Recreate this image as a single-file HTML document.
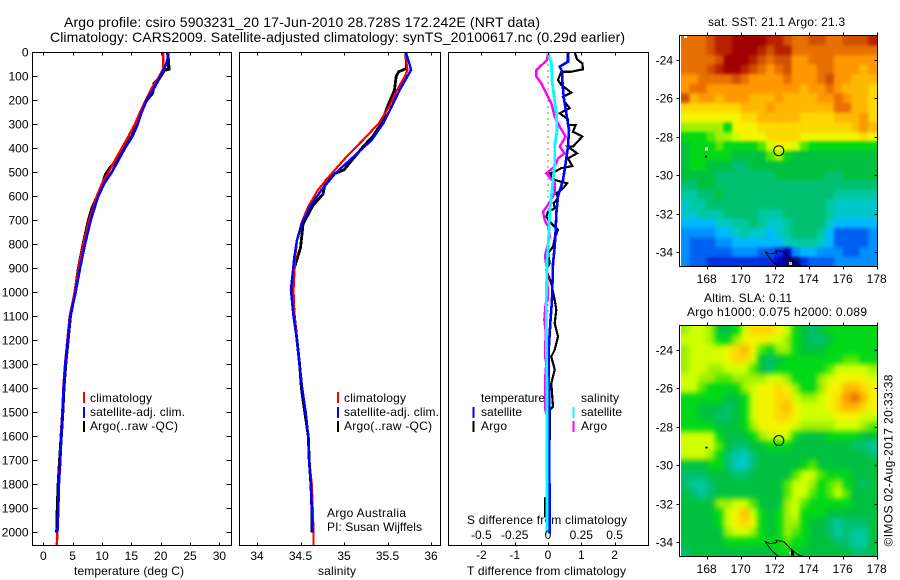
<!DOCTYPE html>
<html lang="en">
<head>
<meta charset="utf-8">
<title>Argo profile 5903231_20</title>
<style>
html,body{margin:0;padding:0;background:#fff;width:900px;height:580px;overflow:hidden}
svg{display:block}
text{font-family:"Liberation Sans",sans-serif;font-size:12px;fill:#000}
</style>
</head>
<body>
<svg id="chart" xmlns="http://www.w3.org/2000/svg" width="900" height="580" viewBox="0 0 900 580">
<rect x="0" y="0" width="900" height="580" fill="#fff"/>
<defs>
<clipPath id="clip-map1"><rect x="681" y="36" width="196" height="230"/></clipPath>
<clipPath id="clip-map2"><rect x="681" y="326" width="196" height="230"/></clipPath>
<filter id="smooth-sst" filterUnits="userSpaceOnUse" x="650" y="10" width="250" height="280" color-interpolation-filters="sRGB"><feGaussianBlur stdDeviation="1.6"/></filter>
<filter id="smooth-sla" filterUnits="userSpaceOnUse" x="650" y="300" width="250" height="280" color-interpolation-filters="sRGB"><feGaussianBlur stdDeviation="2.8"/></filter>
</defs>
<text x="64" y="27" font-size="14" style="font-size:14px" textLength="476">Argo profile: csiro 5903231_20 17-Jun-2010 28.728S 172.242E (NRT data)</text>
<text x="50" y="42" style="font-size:14px" textLength="575">Climatology: CARS2009. Satellite-adjusted climatology: synTS_20100617.nc (0.29d earlier)</text>
<text x="74" y="575" textLength="110">temperature (deg C)</text>
<text x="318" y="575" textLength="38">salinity</text>
<text x="467" y="575" textLength="159">T difference from climatology</text>
<text x="467" y="524" textLength="160">S difference from climatology</text>
<text x="327" y="517" textLength="79">Argo Australia</text>
<text x="327" y="531" textLength="95">PI: Susan Wijffels</text>
<text x="708" y="26" textLength="137">sat. SST: 21.1 Argo: 21.3</text>
<text x="704" y="302" textLength="88">Altim. SLA: 0.11</text>
<text x="687" y="316" textLength="180">Argo h1000: 0.075 h2000: 0.089</text>
<text transform="translate(892.5,546.5) rotate(-90)" textLength="172">©IMOS 02-Aug-2017 20:33:38</text>
<g id="layer"></g>
</svg>
<script>
/* ---- axis tick labels ---- */
const depthTicks = [0,100,200,300,400,500,600,700,800,900,1000,1100,1200,1300,1400,1500,1600,1700,1800,1900,2000];
const tempTicks = [0,5,10,15,20,25,30];
const salTicks = [34,34.5,35,35.5,36];
const salTickLabels = ['34','34.5','35','35.5','36'];
const tDiffTicks = [-2,-1,0,1,2];
const sDiffTicks = [-0.5,-0.25,0,0.25,0.5];
const sDiffTickLabels = ['-0.5','-0.25','0','0.25','0.5'];
const lonTicks = [168,170,172,174,176,178];
const latTicks = [-24,-26,-28,-30,-32,-34];

/* ---- temperature profiles ---- */
const climTempDepth = [0,70,100,150,200,250,300,350,400,450,500,550,600,650,700,800,900,1000,1100,1300,1400,1500,1600,1700,1800,1900,2000,2055];
const climTemp = [20.45,20.4,19.76,18.46,17.44,16.47,15.6,14.5,13.35,12.2,11.1,9.95,9.1,8.5,7.8,6.8,6,5.35,4.5,3.7,3.4,3.25,3.0,2.85,2.6,2.55,2.4,2.3];
const satTempDepth = [0,20,50,100,150,200,250,300,350,400,450,500,550,600,650,700,800,900,1000,1100,1300,1400,1500,1600,1700,1800,1900,2000];
const satTemp = [21.3,21.3,20.9,20,18.86,17.6,16.76,16.08,15.2,13.9,12.8,11.65,10.3,9.37,8.7,8.07,7.1,6.25,5.5,4.6,3.75,3.45,3.3,3.05,2.9,2.65,2.55,2.4];
const argoTempDepth = [0,70,75,100,130,170,200,250,300,350,400,450,480,510,550,600,650,700,800,900,1000,1100,1300,1400,1500,1600,1700,1800,1900,2000];
const argoTemp = [21.2,21.4,20.6,20,18.9,18.6,17.6,16.6,15.9,15.1,13.6,12.5,11.4,10.6,10.1,9.2,8.3,7.7,6.8,6,5.4,4.6,3.8,3.5,3.3,3.05,2.8,2.55,2.4,2.3];

/* ---- salinity profiles ---- */
const climSalDepth = [0,46,74,100,157,226,296,365,435,504,574,643,712,782,851,920,990,1100,1200,1300,1400,1500,1600,1700,1800,1900,2000,2055];
const climSal = [35.71,35.72,35.73,35.7,35.61,35.52,35.4,35.22,35.03,34.86,34.7,34.59,34.51,34.46,34.44,34.43,34.42,34.43,34.46,34.49,34.52,34.56,34.59,34.6,34.63,34.64,34.65,34.65];
const satSalDepth = [0,46,74,100,157,226,296,365,435,504,574,643,712,782,851,920,990,1100,1200,1300,1400,1500,1600,1700,1800,1900,2000];
const satSal = [35.71,35.75,35.77,35.73,35.64,35.55,35.45,35.32,35.11,34.9,34.74,34.61,34.52,34.46,34.43,34.41,34.39,34.42,34.46,34.49,34.52,34.56,34.59,34.6,34.62,34.63,34.64];
const argoSalDepth = [0,67,81,100,157,226,296,351,393,424,490,510,535,590,640,715,815,910,990,1100,1200,1300,1400,1500,1600,1700,1800,1900,2000];
const argoSal = [35.71,35.72,35.63,35.6,35.58,35.5,35.43,35.33,35.22,35.15,35,34.86,34.79,34.76,34.64,34.53,34.5,34.42,34.41,34.43,34.46,34.49,34.51,34.55,34.59,34.6,34.62,34.63,34.63];

/* ---- difference profiles ---- */
const diffTArgoDepth = [0,29,46,71,81,81,115,136,168,185,206,233,254,279,303,303,331,351,393,393,421,442,474,483,497,504,532,546,567,588,608,629,650,664,685,706,740,775,810,838,879,907,963,1032,1073,1129,1184,1240,1268,1323,1379,1476,1490,1600,1850,1858,1934,1940,2000];
const diffTArgo = [0.8,0.87,1.03,1.05,0.7,0.4,0.3,0.4,0.7,0.45,0.5,0.65,0.35,0.6,0.6,0.83,0.75,1.03,0.75,0.6,0.87,0.6,0.73,0.4,0.2,0.05,0.2,0.57,0.45,0.25,0.3,0.17,0.2,0,-0.05,0.05,0.3,0.2,0.15,0,0.05,-0.05,0.1,0.2,0.25,0.2,0.3,0.2,0.1,0.2,0.1,0.15,0.05,0.05,0.03,-0.09,-0.09,0.03,0.03];
const diffTSatDepth = [0,39,60,81,115,185,254,324,393,463,532,601,671,740,810,879,1032,1129,1240,1407,2004];
const diffTSat = [0.6,0.6,0.35,0.43,0.43,0.47,0.55,0.63,0.6,0.53,0.45,0.3,0.25,0.23,0.2,0.15,0.12,0.07,0.02,0.03,0.05];
const diffSArgoDepth = [0,32,74,101,129,185,213,268,310,351,393,421,442,476,504,546,588,629,664,699,726,768,824,851,907,1032,1046,1115,1164,1268,1296,1365,1490,1518,1879,2004];
const diffSArgo = [0,-0.0075,-0.0875,-0.0875,-0.05,0,0.025,0.05,0.0875,0.1325,0.0875,0.125,0.075,0.05,-0.0125,0.05,0.05,0.0075,-0.0375,-0.025,0,0.0125,-0.0125,-0.0225,-0.0075,0,-0.0175,-0.0275,-0.0175,-0.0225,-0.0125,-0.0225,-0.02,-0.0075,0.0075,0.0025];
const diffSSatDepth = [0,46,115,185,254,324,393,463,532,601,671,740,810,879,1032,1129,1407,2004];
const diffSSat = [0,0.025,0.03,0.045,0.0625,0.0675,0.05,0.05,0.0375,0.025,0.0125,0.0075,0,-0.0075,-0.0125,-0.0125,-0.0075,-0.0075];

/* ---- map colour scale (colour index -> colour) ---- */
const palette = ['#000080','#0000c0','#0030e0','#0060f0','#0090ff','#00b8ff','#00c8c8','#00c8a0','#00c070','#00c040','#00d818','#50e800','#a0f000','#d0ff00','#f4f400','#ffd800','#ffb800','#ff9800','#e87000','#d05000','#b82000','#a00000'];

/* ---- satellite SST grid (colour index), 0.5 deg cells, north to south ---- */
const sstGrid = [
[18,18,18,19,20,20,21,21,21,21,20,20,19,18,18,19,19,18,18,19,19,19,20],
[18,18,18,19,20,20,21,21,21,20,19,20,20,18,18,18,18,18,18,18,18,18,18],
[18,18,18,18,19,21,21,21,20,19,18,19,19,17,17,18,18,18,17,17,17,17,17],
[18,18,18,19,20,21,21,20,19,18,17,18,19,17,17,17,18,18,17,17,17,16,17],
[17,17,18,18,18,18,19,18,17,17,17,17,18,17,17,17,18,19,17,17,16,16,16],
[17,18,18,17,17,17,17,17,17,17,17,17,17,17,16,17,17,18,17,16,16,16,15],
[19,16,17,17,16,17,17,17,16,16,16,17,16,16,16,16,17,17,18,17,16,16,15],
[15,15,15,15,15,15,15,16,16,16,17,16,16,16,16,16,16,16,18,18,16,16,15],
[14,14,14,14,14,14,14,15,15,16,16,16,16,16,15,15,15,15,16,16,16,17,15],
[12,12,12,12,12,10,14,14,14,15,15,15,15,15,15,15,15,15,15,15,16,17,16],
[10,10,10,11,12,12,13,14,14,14,15,15,15,15,14,14,14,14,14,14,14,15,14],
[9,10,10,10,11,10,10,10,10,11,13,14,14,13,11,10,10,10,10,10,10,10,10],
[9,10,10,10,10,10,9,9,9,9,11,12,10,9,9,9,9,9,9,9,9,9,9],
[9,10,10,9,9,9,8,8,9,9,9,9,9,9,9,9,9,9,9,9,9,9,9],
[9,9,9,9,8,8,8,8,8,8,8,9,9,9,9,9,9,8,8,9,9,9,9],
[8,8,9,9,8,8,8,8,8,8,8,8,8,8,8,8,8,8,8,8,8,8,8],
[7,7,8,8,9,8,8,8,8,8,8,8,8,8,8,8,8,8,7,7,7,7,7],
[6,7,7,8,8,8,8,8,8,8,8,8,8,8,8,8,8,7,6,6,6,6,6],
[6,6,7,7,7,8,8,8,8,7,7,7,8,8,8,8,8,7,6,6,6,6,6],
[5,5,5,5,6,6,7,7,8,7,6,6,7,8,8,8,8,6,5,5,5,5,5],
[4,4,4,4,5,5,6,7,6,6,5,6,7,8,8,8,7,5,3,3,3,3,4],
[4,3,3,3,4,4,5,5,5,5,5,5,6,7,7,7,6,5,3,3,3,3,4],
[4,3,3,3,3,3,4,4,4,3,3,2,1,4,5,5,4,4,4,3,3,4,4],
[4,3,3,2,2,2,2,2,2,2,2,1,0,0,2,3,3,3,4,4,4,4,4]
];

/* ---- altimetry SLA grid (colour index), 0.5 deg cells, north to south ---- */
const slaGrid = [
[12,13,13,12,9,9,10,13,15,15,15,14,13,10,9,8,9,10,10,10,10,10,10],
[13,13,13,12,10,10,12,14,14,14,14,13,12,10,9,8,8,9,10,10,10,10,10],
[12,13,13,13,13,14,15,16,14,11,10,12,12,10,9,9,9,10,10,10,10,10,10],
[12,13,13,13,13,14,15,15,13,9,8,9,10,10,10,10,10,10,10,11,11,10,10],
[12,13,13,12,12,13,13,13,11,9,8,10,10,10,10,10,10,11,13,13,13,13,12],
[13,13,12,12,11,11,12,12,12,12,13,13,12,10,10,10,12,13,14,14,14,14,13],
[13,13,11,10,10,10,10,12,13,14,14,15,14,12,10,10,12,14,14,16,16,15,14],
[10,10,10,10,10,9,9,10,13,14,14,15,15,13,12,12,13,14,15,17,18,16,14],
[10,10,9,9,9,8,9,10,13,14,14,15,16,14,13,13,13,14,15,16,16,15,14],
[10,10,9,9,8,8,9,10,13,14,14,15,15,14,13,13,13,13,14,14,14,13,13],
[10,10,10,10,9,9,9,10,12,14,14,14,14,13,12,12,12,12,13,13,13,12,11],
[13,13,13,13,10,9,9,9,10,12,13,13,13,10,9,9,9,10,10,10,10,9,9],
[13,13,13,13,11,9,8,8,9,9,10,10,10,9,9,9,9,9,9,9,8,8,7],
[13,13,13,12,10,8,7,6,8,9,9,9,9,9,9,9,9,9,9,9,9,9,8],
[9,9,9,10,10,8,6,6,8,9,9,9,9,9,10,11,9,9,9,9,9,9,9],
[8,8,8,9,9,9,8,8,9,9,9,9,9,11,13,13,11,10,10,10,9,9,9],
[8,7,7,8,9,9,9,9,9,9,9,9,11,13,13,12,10,11,12,10,9,8,9],
[9,8,7,8,9,9,9,9,9,9,9,9,11,13,13,11,10,11,13,11,9,9,9],
[9,9,9,9,12,12,13,13,11,9,9,9,12,13,11,10,10,10,10,10,9,9,9],
[9,9,9,9,10,13,14,16,13,10,9,10,12,13,10,10,10,9,9,9,9,9,9],
[9,9,9,9,10,13,14,15,14,10,9,10,12,12,10,9,9,8,7,8,8,8,9],
[9,9,9,9,9,12,13,13,12,10,9,10,12,11,10,9,9,8,7,8,7,7,9],
[9,9,9,9,9,10,10,10,10,10,10,10,11,10,10,9,9,9,8,8,7,7,9],
[8,9,9,9,9,9,9,9,9,9,9,10,10,10,9,9,9,9,9,9,8,8,9]
];

/* ---- geography ---- */
const coastLon = [171.43,171.72,172.12,172.08,172.51,172.9,173.39,173.68,172.21,171.82,171.43];
const coastLat = [-33.97,-34.09,-34.03,-33.92,-33.97,-34.32,-34.67,-34.75,-34.75,-34.44,-33.97];
const profileLon = 172.242;
const profileLat = -28.728;
const gridLonStart = 166.5;
const gridLatStart = -22.75;
const gridStep = 0.5;

/* ---- axis functions ---- */
const yD = d => 52.3 + 0.24 * d;
const xT = v => 43.3 + 5.87 * v;
const xS = v => 257 + 87 * (v - 34);
const xDT = v => 548 + 33.3 * v;
const xDS = v => 548 + 133.2 * v;
const lonX = lon => 706.7 + 17 * (lon - 168);
const latY1 = lat => 59.7 + 19.25 * (-24 - lat);
const latY2 = lat => 349.5 + 19.25 * (-24 - lat);

const NS = 'http://www.w3.org/2000/svg';
const layer = document.getElementById('layer');

function mk(tag, name, attrs, parent) {
  const el = document.createElementNS(NS, tag);
  for (const k in attrs) el.setAttribute(k, attrs[k]);
  
  
  (parent || layer).appendChild(el);
  return el;
}
function label(name, str, x, y, anchor, width) {
  const attrs = {x: x, y: y, 'text-anchor': anchor || 'start'};
  if (width) attrs.textLength = width;
  const el = mk('text', name, attrs);
  el.textContent = str;
  return el;
}
function seg(name, x1, y1, x2, y2) {
  return mk('line', name, {x1: x1, y1: y1, x2: x2, y2: y2, stroke: '#000', 'stroke-width': 1, 'shape-rendering': 'crispEdges'});
}
function frame(name, x0, y0, x1, y1) {
  return mk('rect', name, {x: x0, y: y0, width: x1 - x0, height: y1 - y0, fill: 'none', stroke: '#000', 'stroke-width': 1, 'shape-rendering': 'crispEdges'});
}
function profile(name, xf, values, depths, color, width) {
  const pts = values.map((v, i) => xf(v).toFixed(1) + ',' + yD(depths[i]).toFixed(1)).join(' ');
  return mk('polyline', name, {points: pts, fill: 'none', stroke: color, 'stroke-width': width, 'stroke-linejoin': 'miter', 'shape-rendering': 'crispEdges'});
}
function legendKey(name, x, y0, y1, color) {
  return mk('line', name, {x1: x, y1: y0, x2: x, y2: y1, stroke: color, 'stroke-width': 2.4, 'shape-rendering': 'crispEdges'});
}
function heatmap(name, grid, latY, clipId, filterId) {
  const outer = mk('g', name + '-clip', {'clip-path': 'url(#' + clipId + ')'});
  const g = mk('g', name, {filter: 'url(#' + filterId + ')', 'shape-rendering': 'crispEdges'}, outer);
  const nRows = grid.length;
  grid.forEach((row, j) => {
    row.forEach((val, i) => {
      const lon0 = gridLonStart + i * gridStep;
      const lat0 = gridLatStart - j * gridStep;
      let x0 = lonX(lon0), x1 = lonX(lon0 + gridStep) + 0.6;
      let y0 = latY(lat0), y1 = latY(lat0 - gridStep) + 0.6;
      /* edge cells bleed past the frame so smoothing does not fade at the border */
      if (i === 0) x0 -= 12;
      if (i === row.length - 1) x1 += 12;
      if (j === 0) y0 -= 12;
      if (j === nRows - 1) y1 += 12;
      mk('rect', 'map-cell', {x: x0.toFixed(1), y: y0.toFixed(1), width: (x1 - x0).toFixed(1), height: (y1 - y0).toFixed(1), fill: palette[val]}, g);
    });
  });
  return outer;
}

/* depth panels */
const top0 = 52.5, bot0 = 545.5;
/* temperature panel */
profile('temperature-argo-line', xT, argoTemp, argoTempDepth, '#000', 3.2);
profile('temperature-climatology-line', xT, climTemp, climTempDepth, '#f00', 2.4);
profile('temperature-satellite-line', xT, satTemp, satTempDepth, '#00f', 2.6);
/* salinity panel */
profile('salinity-argo-line', xS, argoSal, argoSalDepth, '#000', 2.8);
profile('salinity-climatology-line', xS, climSal, climSalDepth, '#f00', 2.2);
profile('salinity-satellite-line', xS, satSal, satSalDepth, '#00f', 2.4);
/* difference panel */
mk('line', 'zero-difference-line', {x1: xDT(0), y1: yD(0), x2: xDT(0), y2: yD(1100), stroke: '#000', 'stroke-width': 1, 'stroke-dasharray': '1 5', 'shape-rendering': 'crispEdges'});
profile('t-difference-argo-line', xDT, diffTArgo, diffTArgoDepth, '#000', 2.2);
profile('s-difference-argo-line', xDS, diffSArgo, diffSArgoDepth, '#f0f', 2.4);
profile('t-difference-satellite-line', xDT, diffTSat, diffTSatDepth, '#00f', 2.6);
profile('s-difference-satellite-line', xDS, diffSSat, diffSSatDepth, '#0ff', 2.8);

frame('temperature-panel-frame', 32.5, top0, 231.5, bot0);
frame('salinity-panel-frame', 239.5, top0, 440.5, bot0);
frame('difference-panel-frame', 448.5, top0, 648.5, bot0);

depthTicks.forEach(d => {
  const y = Math.round(yD(d)) + 0.5;
  seg('depth-tick-left', 32.5, y, 37.5, y);
  seg('depth-tick-right', 226.5, y, 231.5, y);
  label('depth-tick-label', String(d), 28.5, y + 4.2, 'end');
});
tempTicks.forEach(v => {
  const x = Math.round(xT(v)) + 0.5;
  seg('temperature-tick-top', x, top0, x, top0 + 3);
  seg('temperature-tick-bottom', x, bot0 - 3, x, bot0);
  label('temperature-tick-label', String(v), xT(v), 560, 'middle');
});
salTicks.forEach((v, i) => {
  const x = Math.round(xS(v)) + 0.5;
  seg('salinity-tick-top', x, top0, x, top0 + 3);
  seg('salinity-tick-bottom', x, bot0 - 3, x, bot0);
  label('salinity-tick-label', salTickLabels[i], xS(v), 560, 'middle');
});
tDiffTicks.forEach(v => {
  const x = Math.round(xDT(v)) + 0.5;
  seg('t-difference-tick-top', x, top0, x, top0 + 3);
  seg('t-difference-tick-bottom', x, bot0 - 3, x, bot0);
  label('t-difference-tick-label', String(v), xDT(v), 559, 'middle');
});
sDiffTicks.forEach((v, i) => {
  label('s-difference-tick-label', sDiffTickLabels[i], xDS(v), 539, 'middle');
});

/* legends */
legendKey('legend-key-climatology', 84, 392, 403, '#f00');
legendKey('legend-key-satellite-adj', 84, 407, 418, '#00f');
legendKey('legend-key-argo', 84, 421, 432, '#000');
label('legend-climatology', 'climatology', 90, 402, 'start', 62);
label('legend-satellite-adj', 'satellite-adj. clim.', 90, 416, 'start', 95);
label('legend-argo', 'Argo(..raw -QC)', 90, 430, 'start', 88);
legendKey('salinity-legend-key-climatology', 338, 392, 403, '#f00');
legendKey('salinity-legend-key-satellite-adj', 338, 407, 418, '#00f');
legendKey('salinity-legend-key-argo', 338, 421, 432, '#000');
label('salinity-legend-climatology', 'climatology', 344, 402, 'start', 62);
label('salinity-legend-satellite-adj', 'satellite-adj. clim.', 344, 416, 'start', 95);
label('salinity-legend-argo', 'Argo(..raw -QC)', 344, 430, 'start', 88);
label('difference-legend-temperature', 'temperature', 481, 402, 'start', 64);
legendKey('difference-legend-key-t-satellite', 473.5, 407, 418, '#00f');
legendKey('difference-legend-key-t-argo', 473.5, 421, 432, '#000');
label('difference-legend-t-satellite', 'satellite', 481, 416, 'start', 41);
label('difference-legend-t-argo', 'Argo', 481, 430, 'start', 26);
label('difference-legend-salinity', 'salinity', 581, 402, 'start', 38);
legendKey('difference-legend-key-s-satellite', 573.5, 407, 418, '#0ff');
legendKey('difference-legend-key-s-argo', 573.5, 421, 432, '#f0f');
label('difference-legend-s-satellite', 'satellite', 581, 416, 'start', 41);
label('difference-legend-s-argo', 'Argo', 581, 430, 'start', 26);

/* maps */
function drawMap(prefix, grid, latY, clipId, filterId, top, bottom, labelY) {
  heatmap(prefix + '-heatmap', grid, latY, clipId, filterId);
  const pts = coastLon.map((lon, i) => lonX(lon).toFixed(1) + ',' + latY(coastLat[i]).toFixed(1)).join(' ');
  const cg = mk('g', prefix + '-coast-group', {'clip-path': 'url(#' + clipId + ')'});
  mk('polyline', prefix + '-coastline', {points: pts, fill: 'none', stroke: '#000', 'stroke-width': 1, 'shape-rendering': 'crispEdges'}, cg);
  mk('rect', prefix + '-coast-spot', {x: lonX(172.85), y: latY(-34.5), width: 3, height: 3, fill: '#ffb060', 'shape-rendering': 'crispEdges'}, cg);
  mk('circle', prefix + '-profile-location', {cx: lonX(profileLon), cy: latY(profileLat), r: 5, fill: 'none', stroke: '#000', 'stroke-width': 1});
  frame(prefix + '-frame', 679.5, top, 877.5, bottom);
  lonTicks.forEach(lon => {
    const x = Math.round(lonX(lon)) + 0.5;
    seg(prefix + '-lon-tick-top', x, top - 3, x, top);
    seg(prefix + '-lon-tick-bottom', x, bottom, x, bottom + 3);
    label(prefix + '-lon-tick-label', String(lon), lonX(lon), labelY, 'middle');
  });
  latTicks.forEach(lat => {
    const y = Math.round(latY(lat)) + 0.5;
    seg(prefix + '-lat-tick-left', 676.5, y, 679.5, y);
    seg(prefix + '-lat-tick-right', 874.5, y, 877.5, y);
    label(prefix + '-lat-tick-label', String(lat), 673, y + 4.2, 'end');
  });
}
drawMap('sst-map', sstGrid, latY1, 'clip-map1', 'smooth-sst', 35.5, 266.5, 283);
drawMap('sla-map', slaGrid, latY2, 'clip-map2', 'smooth-sla', 325.5, 556.5, 573);
mk('rect', 'sst-map-top-white-pixel', {x: 684, y: 36, width: 3, height: 2, fill: '#fff', 'shape-rendering': 'crispEdges'});
mk('rect', 'sst-map-island-white', {x: lonX(168) - 1.7, y: latY1(-28.55), width: 3, height: 3, fill: '#fff', 'shape-rendering': 'crispEdges'});
mk('rect', 'sst-map-island-black', {x: lonX(168) - 1.7, y: latY1(-28.98), width: 2, height: 2, fill: '#000', 'shape-rendering': 'crispEdges'});
mk('rect', 'sla-map-island-white', {x: lonX(168) - 1.2, y: latY2(-28.95), width: 2, height: 2, fill: '#fff', 'shape-rendering': 'crispEdges'});
mk('rect', 'sla-map-island-black', {x: lonX(168) - 1.2, y: latY2(-29.05), width: 2, height: 2, fill: '#000', 'shape-rendering': 'crispEdges'});
mk('rect', 'sla-map-coast-dark-spot', {x: lonX(172.95), y: latY2(-34.45), width: 3, height: 5, fill: '#000', 'shape-rendering': 'crispEdges'});
</script>
</body>
</html>
